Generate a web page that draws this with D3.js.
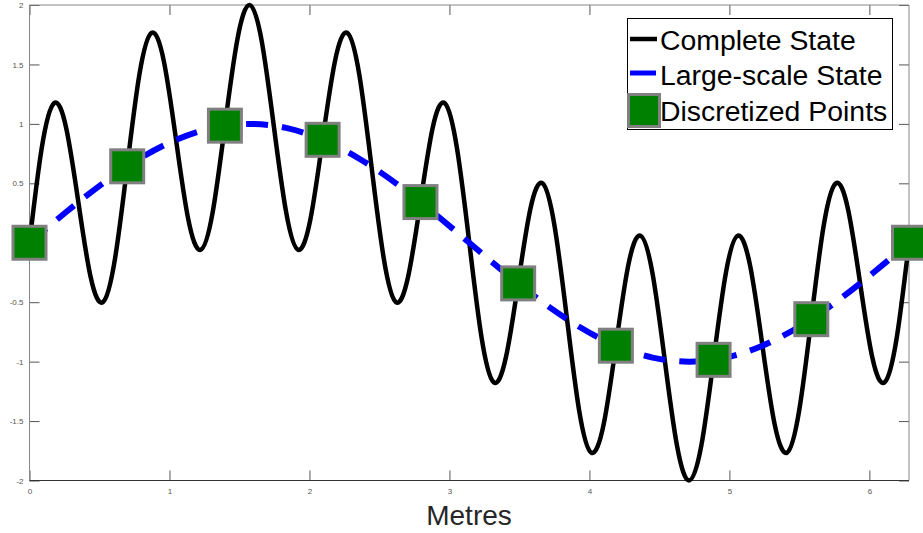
<!DOCTYPE html>
<html lang="en">
<head>
    <meta charset="UTF-8">
    <title>Complete vs Large-scale State</title>
    <script src="https://d3js.org/d3.v7.min.js"></script>
    <style>
        body { margin: 0; background: #fff; }
        svg { display: block; font-family: "Liberation Sans", Arial, Helvetica, sans-serif; }
        .tick text { font-size: 8px; fill: #555; }
        .tick line { stroke: #555; }
    </style>
</head>
<body>
    <svg id="chart" width="923" height="533"></svg>

    <script>
        // complete state: [metres, value]
        const completeState = [
            [0, 0], [0.087, 0.794], [0.175, 1.174], [0.262, 0.966], [0.349, 0.342], [0.436, -0.284],
            [0.524, -0.5], [0.611, -0.133], [0.698, 0.643], [0.785, 1.414], [0.873, 1.766], [0.960, 1.526],
            [1.047, 0.866], [1.134, 0.199], [1.222, -0.06], [1.309, 0.259], [1.396, 0.985], [1.484, 1.703],
            [1.571, 2], [1.658, 1.703], [1.745, 0.985], [1.833, 0.259], [1.920, -0.06], [2.007, 0.199],
            [2.094, 0.866], [2.182, 1.526], [2.269, 1.766], [2.356, 1.414], [2.443, 0.643], [2.531, -0.133],
            [2.618, -0.5], [2.705, -0.284], [2.793, 0.342], [2.880, 0.966], [2.967, 1.174], [3.054, 0.794],
            [3.142, 0], [3.229, -0.794], [3.316, -1.174], [3.403, -0.966], [3.491, -0.342], [3.578, 0.284],
            [3.665, 0.5], [3.752, 0.133], [3.840, -0.643], [3.927, -1.414], [4.014, -1.766], [4.102, -1.526],
            [4.189, -0.866], [4.276, -0.199], [4.363, 0.06], [4.451, -0.259], [4.538, -0.985], [4.625, -1.703],
            [4.712, -2], [4.800, -1.703], [4.887, -0.985], [4.974, -0.259], [5.061, 0.06], [5.149, -0.199],
            [5.236, -0.866], [5.323, -1.526], [5.411, -1.766], [5.498, -1.414], [5.585, -0.643], [5.672, 0.133],
            [5.760, 0.5], [5.847, 0.284], [5.934, -0.342], [6.021, -0.966], [6.109, -1.174], [6.196, -0.794],
            [6.283, 0]
        ];

        // large-scale state: [metres, value]
        const largeState = [
            [0, 0], [0.262, 0.259], [0.524, 0.5], [0.785, 0.707], [1.047, 0.866], [1.309, 0.966],
            [1.571, 1], [1.833, 0.966], [2.094, 0.866], [2.356, 0.707], [2.618, 0.5], [2.880, 0.259],
            [3.142, 0], [3.403, -0.259], [3.665, -0.5], [3.927, -0.707], [4.189, -0.866], [4.451, -0.966],
            [4.712, -1], [4.974, -0.966], [5.236, -0.866], [5.498, -0.707], [5.760, -0.5], [6.021, -0.259],
            [6.283, 0]
        ];

        const pointX = [0, 0.698, 1.396, 2.094, 2.793, 3.491, 4.189, 4.887, 5.585, 6.283];
        const pointY = [0, 0.643, 0.985, 0.866, 0.342, -0.342, -0.866, -0.985, -0.643, 0];

        const xTicks = [0, 1, 2, 3, 4, 5, 6];
        const yTicks = [-2, -1.5, -1, -0.5, 0, 0.5, 1, 1.5, 2];
        const legendLabels = ['Complete State', 'Large-scale State', 'Discretized Points'];

        const svg = d3.select('#chart');
        const mLeft = 29.5, mRight = 909, mTop = 5, mBottom = 480.5;

        const x = d3.scaleLinear().domain([0, 6.283]).range([mLeft, mRight]);
        const y = d3.scaleLinear().domain([-2, 2]).range([mBottom, mTop]);
        const fmt = d => String(d);

        // axes with inward ticks
        svg.append('g')
            .attr('transform', `translate(0,${mBottom})`)
            .call(d3.axisBottom(x).tickValues(xTicks).tickFormat(fmt).tickSize(-10).tickSizeOuter(0).tickPadding(8))
            .call(g => g.select('.domain').remove());
        svg.append('g')
            .attr('transform', `translate(${mLeft},0)`)
            .call(d3.axisLeft(y).tickValues(yTicks).tickFormat(fmt).tickSize(-10).tickSizeOuter(0).tickPadding(6))
            .call(g => g.select('.domain').remove());
        svg.append('g')
            .attr('transform', `translate(0,${mTop})`)
            .call(d3.axisTop(x).tickValues(xTicks).tickSize(-10).tickFormat(''))
            .call(g => g.select('.domain').remove());
        svg.append('g')
            .attr('transform', `translate(${mRight},0)`)
            .call(d3.axisRight(y).tickValues(yTicks).tickSize(-10).tickFormat(''))
            .call(g => g.select('.domain').remove());

        // box
        svg.append('line').attr('x1', mLeft).attr('x2', mRight).attr('y1', mTop).attr('y2', mTop).attr('stroke', '#888');
        svg.append('line').attr('x1', mRight).attr('x2', mRight).attr('y1', mTop).attr('y2', mBottom).attr('stroke', '#888');
        svg.append('line').attr('x1', mLeft).attr('x2', mLeft).attr('y1', mTop).attr('y2', mBottom).attr('stroke', '#888');
        svg.append('line').attr('x1', mLeft).attr('x2', mRight).attr('y1', mBottom).attr('y2', mBottom).attr('stroke', '#333');

        const line = d3.line()
            .x(d => x(d[0]))
            .y(d => y(d[1]))
            .curve(d3.curveNatural);

        svg.append('path')
            .datum(completeState)
            .attr('d', line)
            .attr('fill', 'none')
            .attr('stroke', '#000')
            .attr('stroke-width', 4.5);

        svg.append('path')
            .datum(largeState)
            .attr('d', line)
            .attr('fill', 'none')
            .attr('stroke', '#0000ff')
            .attr('stroke-width', 6)
            .attr('stroke-dasharray', '22,14');

        const size = 33;
        svg.selectAll('.pt')
            .data(pointX.map((v, i) => [v, pointY[i]]))
            .enter().append('rect')
            .attr('class', 'pt')
            .attr('x', d => x(d[0]) - size / 2)
            .attr('y', d => y(d[1]) - size / 2)
            .attr('width', size)
            .attr('height', size)
            .attr('fill', '#008000')
            .attr('stroke', '#808080')
            .attr('stroke-width', 3);

        // x label
        svg.append('text')
            .attr('x', 469)
            .attr('y', 525)
            .attr('text-anchor', 'middle')
            .attr('font-size', 28)
            .attr('fill', '#262626')
            .text('Metres');

        // legend
        const legend = svg.append('g');
        legend.append('rect')
            .attr('x', 627.5).attr('y', 18.5)
            .attr('width', 265).attr('height', 111)
            .attr('fill', '#fff')
            .attr('stroke', '#000')
            .attr('stroke-width', 1);

        const rowY = [39, 73, 110.5];
        const baseY = [50, 85, 121];
        legendLabels.forEach((label, i) => {
            legend.append('text')
                .attr('x', 660)
                .attr('y', baseY[i])
                .attr('font-size', 28.4)
                .attr('fill', '#000')
                .text(label);
        });
        legend.append('line')
            .attr('x1', 630).attr('x2', 657).attr('y1', rowY[0]).attr('y2', rowY[0])
            .attr('stroke', '#000').attr('stroke-width', 4.5);
        legend.append('line')
            .attr('x1', 630).attr('x2', 656).attr('y1', rowY[1]).attr('y2', rowY[1])
            .attr('stroke', '#0000ff').attr('stroke-width', 5);
        legend.append('rect')
            .attr('x', 628.5).attr('y', rowY[2] - 16)
            .attr('width', 31).attr('height', 32)
            .attr('fill', '#008000')
            .attr('stroke', '#808080')
            .attr('stroke-width', 3);
    </script>
</body>
</html>
